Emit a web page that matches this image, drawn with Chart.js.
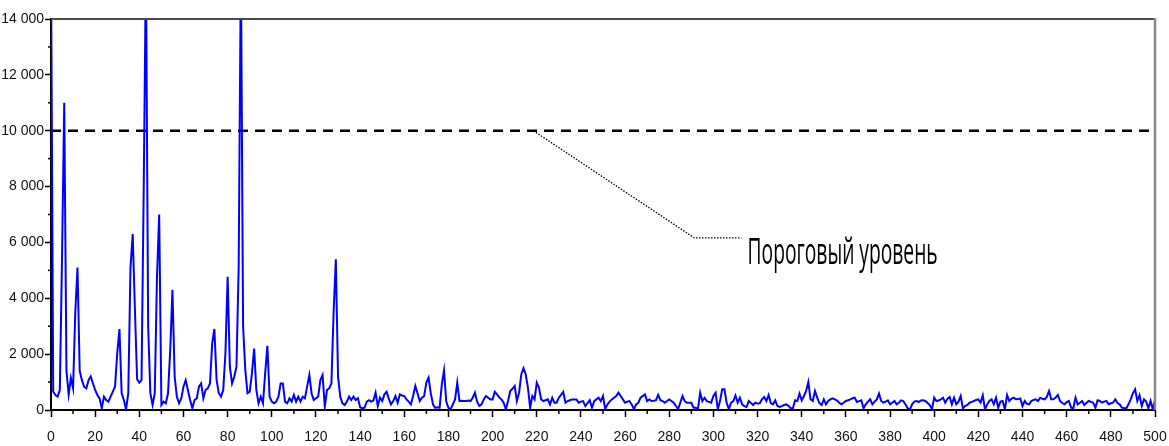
<!DOCTYPE html>
<html>
<head>
<meta charset="utf-8">
<script src="https://cdn.jsdelivr.net/npm/chart.js@4/dist/chart.umd.min.js"></script>
<style>
  body { margin: 0; background: #fff; }
  #wrap { width: 1169px; height: 446px; }
</style>
</head>
<body>
<div id="wrap"><canvas id="spectrum" width="1169" height="446"></canvas></div>
<script>
// amplitude per frequency bin, bin index = position in array (0..500)
var amplitude = [
  16000, 656, 537, 477, 716, 5500, 11000, 1400, 550, 1150,
  775, 3500, 5100, 1400, 1070, 835, 775, 1070, 1200, 950,
  716, 537, 418, 60, 477, 358, 300, 477, 656, 835,
  2030, 2900, 600, 358, 24, 600, 5100, 6300, 3600, 1100,
  980, 1070, 8000, 16000, 3000, 600, 180, 600, 4770, 7000,
  180, 300, 240, 600, 2150, 4300, 1190, 477, 240, 418,
  835, 1070, 716, 358, 60, 358, 418, 835, 950, 418,
  716, 775, 950, 2390, 2900, 1070, 600, 477, 716, 2030,
  4770, 1550, 950, 1190, 1550, 5130, 16000, 3000, 1430, 600,
  656, 1310, 2200, 716, 240, 477, 240, 1310, 2300, 477,
  300, 240, 300, 477, 950, 950, 300, 240, 418, 300,
  537, 300, 477, 300, 477, 418, 835, 1250, 600, 358,
  418, 477, 1070, 1250, 120, 716, 775, 950, 3500, 5400,
  1190, 477, 240, 180, 300, 477, 358, 477, 358, 418,
  100, 60, 80, 300, 350, 300, 340, 620, 140, 440,
  320, 560, 650, 400, 200, 320, 500, 260, 560, 520,
  500, 380, 300, 200, 500, 860, 600, 320, 440, 500,
  980, 1160, 600, 200, 80, 100, 80, 920, 1420, 300,
  80, 30, 200, 380, 980, 320, 330, 320, 320, 340,
  320, 440, 620, 300, 140, 200, 380, 500, 440, 380,
  380, 650, 560, 450, 380, 260, 30, 320, 680, 760,
  860, 320, 620, 1280, 1500, 1280, 800, 80, 500, 380,
  980, 800, 380, 320, 350, 380, 200, 440, 260, 260,
  440, 540, 650, 260, 320, 350, 380, 380, 380, 260,
  300, 320, 140, 250, 350, 80, 320, 380, 440, 320,
  500, 30, 200, 300, 380, 440, 500, 620, 500, 380,
  260, 300, 320, 200, 30, 200, 260, 440, 500, 560,
  320, 380, 320, 330, 350, 540, 350, 320, 260, 320,
  380, 320, 260, 150, 30, 260, 500, 320, 260, 260,
  260, 80, 80, 30, 620, 320, 440, 320, 290, 260,
  500, 620, 30, 320, 740, 740, 260, 30, 260, 320,
  520, 260, 440, 200, 140, 107, 320, 250, 179, 262,
  230, 240, 382, 465, 322, 537, 250, 203, 346, 143,
  107, 140, 179, 200, 150, 60, 60, 346, 322, 585,
  346, 500, 680, 1002, 382, 322, 680, 441, 250, 179,
  382, 203, 322, 380, 420, 382, 340, 262, 203, 260,
  322, 350, 382, 420, 441, 286, 320, 346, 60, 203,
  300, 382, 203, 300, 382, 585, 322, 262, 300, 346,
  203, 260, 322, 203, 260, 346, 322, 200, 60, 24,
  203, 300, 322, 286, 340, 346, 322, 250, 179, 24,
  441, 322, 340, 382, 441, 262, 400, 465, 203, 441,
  203, 300, 501, 60, 143, 180, 262, 290, 322, 360,
  382, 262, 525, 24, 200, 322, 382, 203, 441, 84,
  300, 322, 24, 537, 322, 400, 441, 382, 390, 410,
  143, 322, 220, 203, 322, 360, 382, 322, 441, 400,
  382, 465, 680, 382, 382, 450, 537, 322, 250, 203,
  280, 322, 84, 60, 441, 203, 260, 322, 179, 260,
  322, 290, 262, 84, 346, 322, 262, 300, 322, 203,
  240, 262, 382, 250, 203, 84, 70, 60, 203, 382,
  600, 740, 322, 525, 143, 382, 300, 60, 322, 24,
  346
];
var threshold = 10000;
var thresholdLabel = 'Пороговый уровень';
// leader line from the threshold down to the label (data units)
var leaderX = [218.5, 291.4, 312.7];
var leaderY = [10000, 6160, 6160];
var labelX = 315.5, labelY = 5227;

var points = amplitude.map(function(v, i) { return { x: i, y: v }; });

var tickFont = { family: "'Liberation Sans Narrow', 'Liberation Sans', Arial, sans-serif", size: 14 };

var frame = {
  id: 'frame',
  beforeDraw: function(chart) {
    var c = chart.ctx;
    c.save();
    c.fillStyle = '#fff';
    c.fillRect(0, 0, chart.width, chart.height);
    c.restore();
  },
  afterDraw: function(chart) {
    var c = chart.ctx, a = chart.chartArea;
    var xs = chart.scales.x, ys = chart.scales.y;
    c.save();
    // top and right frame
    c.strokeStyle = '#4a4a4a';
    c.lineWidth = 2;
    c.beginPath(); c.moveTo(a.left, a.top); c.lineTo(a.right, a.top); c.stroke();
    c.strokeStyle = '#888';
    c.lineWidth = 2.5;
    c.beginPath(); c.moveTo(a.right, a.top - 1); c.lineTo(a.right, a.bottom); c.stroke();
    // minor ticks
    c.strokeStyle = '#000';
    c.lineWidth = 1.5;
    for (var x = 10; x < 500; x += 20) {
      var px = xs.getPixelForValue(x);
      c.beginPath(); c.moveTo(px, a.bottom); c.lineTo(px, a.bottom + 4); c.stroke();
    }
    for (var y = 1000; y < 14000; y += 2000) {
      var py = ys.getPixelForValue(y);
      c.beginPath(); c.moveTo(a.left - 3, py); c.lineTo(a.left, py); c.stroke();
    }
    // leader line
    c.setLineDash([1.5, 1.5]);
    c.lineWidth = 1.3;
    c.beginPath();
    for (var i = 0; i < leaderX.length; i++) {
      var lx = xs.getPixelForValue(leaderX[i]), ly = ys.getPixelForValue(leaderY[i]);
      if (i == 0) c.moveTo(lx, ly); else c.lineTo(lx, ly);
    }
    c.stroke();
    c.setLineDash([]);
    // label, squeezed to a condensed look
    c.font = '36px "Open Sans", sans-serif';
    c.fillStyle = '#000';
    c.textBaseline = 'alphabetic';
    var w = c.measureText(thresholdLabel).width;
    c.translate(xs.getPixelForValue(labelX), ys.getPixelForValue(labelY));
    c.scale(190 / w, 1);
    c.fillText(thresholdLabel, 0, 0);
    c.restore();
  }
};

new Chart(document.getElementById('spectrum'), {
  type: 'line',
  data: {
    datasets: [{
      data: points,
      borderColor: '#0000ff',
      borderWidth: 2,
      pointRadius: 0,
      tension: 0
    }, {
      data: [{ x: 0, y: threshold }, { x: 500, y: threshold }],
      borderColor: '#000',
      borderWidth: 2.5,
      borderDash: [10, 7],
      pointRadius: 0
    }]
  },
  options: {
    responsive: false,
    devicePixelRatio: 1,
    animation: false,
    layout: { padding: { left: 0, right: 14, top: 19, bottom: 0 } },
    plugins: { legend: { display: false }, tooltip: { enabled: false } },
    scales: {
      x: {
        type: 'linear',
        min: 0, max: 500,
        afterFit: function(s) { s.height = 36; s.paddingLeft = 0; s.paddingRight = 0; },
        ticks: { stepSize: 20, autoSkip: false, maxRotation: 0, padding: 12, color: '#111', font: tickFont },
        grid: { drawOnChartArea: false, tickLength: 7, tickWidth: 1.5, tickColor: '#000' },
        border: { color: '#000', width: 2 }
      },
      y: {
        min: 0, max: 14000,
        afterFit: function(s) { s.width = 51; s.paddingTop = 0; s.paddingBottom = 0; },
        ticks: {
          stepSize: 2000, padding: 1, color: '#111', font: tickFont,
          callback: function(v) { return String(v).replace(/\B(?=(\d{3})+(?!\d))/g, ' '); }
        },
        grid: { drawOnChartArea: false, tickLength: 6, tickWidth: 1.5, tickColor: '#000' },
        border: { color: '#000', width: 2 }
      }
    }
  },
  plugins: [frame]
});
</script>
</body>
</html>
